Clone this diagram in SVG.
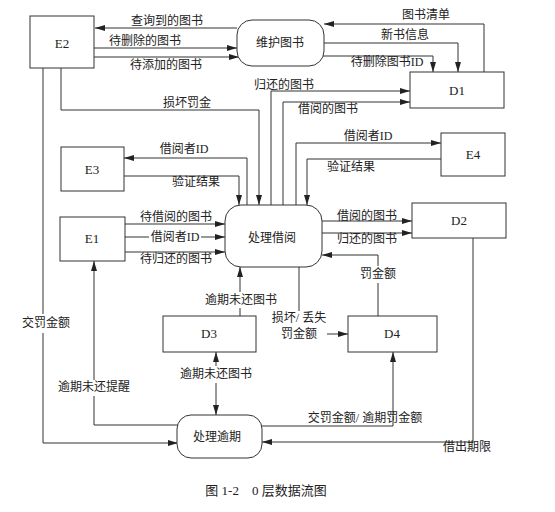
<svg xmlns="http://www.w3.org/2000/svg" width="555" height="512" viewBox="0 0 555 512">
<style>
.box{fill:#fff;stroke:#333;stroke-width:1}
.ln{fill:none;stroke:#333;stroke-width:1}
.ar{marker-end:url(#ah)}
text{font-family:"Liberation Serif","Noto Sans CJK SC",serif;font-size:12px;fill:#222;text-anchor:middle}
.nl{font-size:13px}
</style>
<defs>
<marker id="ah" viewBox="0 0 10 6" refX="10" refY="3" markerWidth="10" markerHeight="6" markerUnits="userSpaceOnUse" orient="auto-start-reverse"><path d="M0,0 L10,3 L0,6 z" fill="#222"/></marker>
</defs>
<rect width="555" height="512" fill="#fff"/>
<g id="connectors">
<path class="ln ar" d="M237,28 H95"/>
<path class="ln ar" d="M94,48 H237"/>
<path class="ln ar" d="M94,57 H239"/>
<path class="ln ar" d="M484,72 V24 H324"/>
<path class="ln ar" d="M324,43 H458 V72"/>
<path class="ln ar" d="M321,56 H433 V72"/>
<path class="ln ar" d="M271,205 V91 H410"/>
<path class="ln ar" d="M283,205 V102 H410"/>
<path class="ln ar" d="M61,68 V110 H259 V205"/>
<path class="ln ar" d="M43,68 V314 M43,333 V443 H178"/>
<path class="ln ar" d="M247,205 V158 H124"/>
<path class="ln ar" d="M124,176 H239 V205"/>
<path class="ln ar" d="M296,205 V143 H441"/>
<path class="ln ar" d="M441,159 H307 V205"/>
<path class="ln ar" d="M322,221 H412"/>
<path class="ln ar" d="M322,233 H412"/>
<path class="ln ar" d="M378,316 V283 M378,266 V255 H322"/>
<path class="ln ar" d="M473,238 V442 H262"/>
<path class="ln ar" d="M125,224 H225"/>
<path class="ln ar" d="M125,237 H149 M201,237 H225"/>
<path class="ln ar" d="M125,252 H225"/>
<path class="ln ar" d="M178,425 H94 V396 M94,380 V261"/>
<path class="ln ar" d="M240,316 V308 M240,292 V267"/>
<path class="ln ar" d="M216,352 V366 M216,383 V415" style="marker-start:url(#ah)"/>
<path class="ln" d="M299,267 V311"/>
<path class="ln ar" d="M327,334 H348"/>
<path class="ln ar" d="M262,426 H393 V352"/>
</g>
<g id="E2"><rect class="box" x="30" y="16" width="64" height="52"/><text class="nl" x="62" y="48">E2</text></g>
<g id="P_maintain"><rect class="box" x="237" y="20" width="87" height="46" rx="15"/><text x="280" y="47">维护图书</text></g>
<g id="D1"><rect class="box" x="410" y="72" width="94" height="36"/><text class="nl" x="457" y="95">D1</text></g>
<g id="E3"><rect class="box" x="61" y="147" width="63" height="44"/><text class="nl" x="92" y="174">E3</text></g>
<g id="E4"><rect class="box" x="441" y="133" width="64" height="43"/><text class="nl" x="473" y="159">E4</text></g>
<g id="E1"><rect class="box" x="60" y="217" width="65" height="44"/><text class="nl" x="92" y="243">E1</text></g>
<g id="P_borrow"><rect class="box" x="225" y="205" width="97" height="62" rx="16"/><text x="272" y="242">处理借阅</text></g>
<g id="D2"><rect class="box" x="412" y="203" width="94" height="35"/><text class="nl" x="459" y="225">D2</text></g>
<g id="D3"><rect class="box" x="163" y="316" width="93" height="36"/><text class="nl" x="209" y="338">D3</text></g>
<g id="D4"><rect class="box" x="348" y="316" width="89" height="36"/><text class="nl" x="392" y="338">D4</text></g>
<g id="P_overdue"><rect class="box" x="177" y="415" width="85" height="43" rx="14"/><text x="217" y="441">处理逾期</text></g>
<g id="labels">
<text x="167" y="25">查询到的图书</text>
<text x="145" y="45">待删除的图书</text>
<text x="166" y="69">待添加的图书</text>
<text x="187" y="107">损坏罚金</text>
<text x="426" y="19">图书清单</text>
<text x="405" y="39">新书信息</text>
<text x="387" y="66">待删除图书ID</text>
<text x="284" y="89">归还的图书</text>
<text x="328" y="113">借阅的图书</text>
<text x="184" y="153">借阅者ID</text>
<text x="196" y="186">验证结果</text>
<text x="368" y="140">借阅者ID</text>
<text x="351" y="171">验证结果</text>
<text x="176" y="221">待借阅的图书</text>
<text x="175" y="241">借阅者ID</text>
<text x="176" y="263">待归还的图书</text>
<text x="367" y="220">借阅的图书</text>
<text x="367" y="243">归还的图书</text>
<text x="378" y="278">罚金额</text>
<text x="46" y="327">交罚金额</text>
<text x="94" y="391">逾期未还提醒</text>
<text x="241" y="304">逾期未还图书</text>
<text x="216" y="378">逾期未还图书</text>
<text x="299" y="322">损坏/ 丢失</text>
<text x="299" y="338">罚金额</text>
<text x="365" y="422">交罚金额/ 逾期罚金额</text>
<text x="467" y="451">借出期限</text>
<text x="266" y="495" style="font-size:13px">图 1-2　0 层数据流图</text>
</g>
</svg>
